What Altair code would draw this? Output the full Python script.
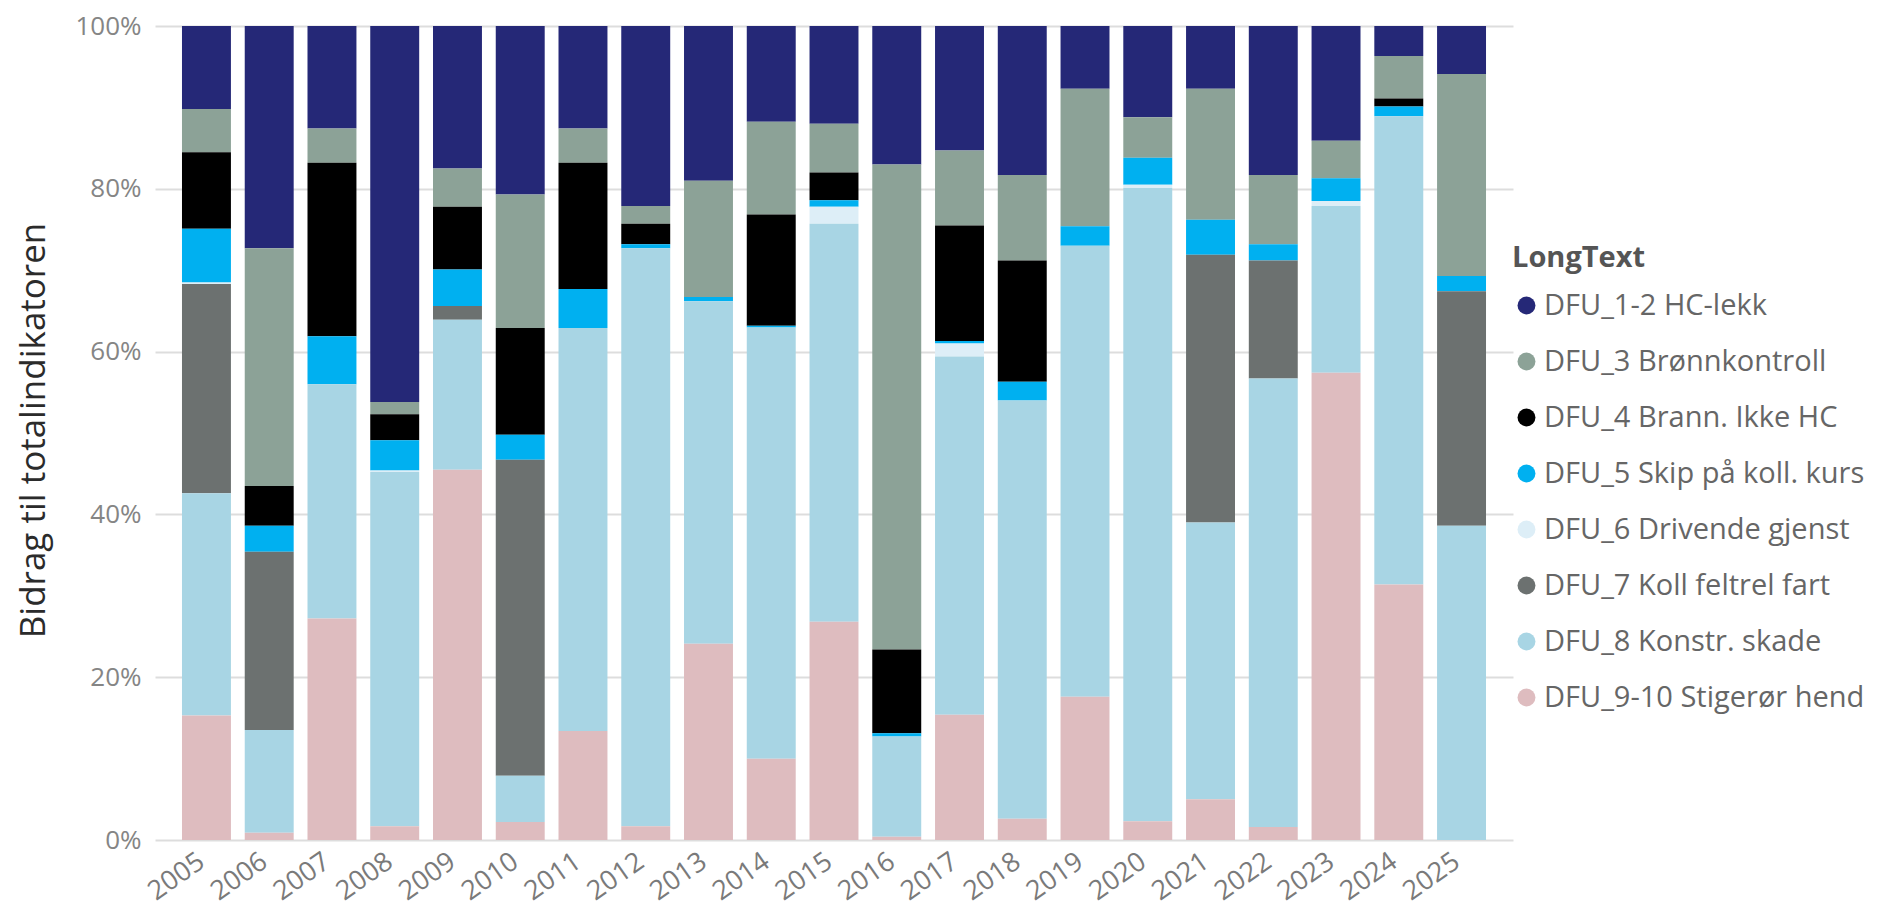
import altair as alt
import pandas as pd

years = [str(y) for y in range(2005, 2026)]

series = [
    "DFU_1-2 HC-lekk",
    "DFU_3 Brønnkontroll",
    "DFU_4 Brann. Ikke HC",
    "DFU_5 Skip på koll. kurs",
    "DFU_6 Drivende gjenst",
    "DFU_7 Koll feltrel fart",
    "DFU_8 Konstr. skade",
    "DFU_9-10 Stigerør hend",
]
colors = ["#252877", "#8CA297", "#000000", "#00B0F0", "#DDEEF7", "#6C7170", "#A8D5E4", "#DEBCBF"]

# percent shares per year, 2005..2025
hc_lekk =    [10.2, 27.3, 12.6, 46.2, 17.5, 20.7, 12.6, 22.1, 19.0, 11.8, 12.0, 17.0, 15.3, 18.3, 7.7, 11.2, 7.7, 18.3, 14.1, 3.7, 5.9]
bronn =      [5.3, 29.2, 4.2, 1.5, 4.7, 16.4, 4.2, 2.2, 14.3, 11.4, 6.0, 59.6, 9.2, 10.5, 16.9, 5.0, 16.1, 8.5, 4.6, 5.2, 24.8]
brann =      [9.4, 4.9, 21.3, 3.2, 7.7, 13.1, 15.5, 2.5, 0.0, 13.7, 3.4, 10.3, 14.2, 14.9, 0.0, 0.0, 0.0, 0.0, 0.0, 1.0, 0.0]
skip =       [6.6, 3.2, 5.9, 3.7, 4.5, 3.1, 4.8, 0.5, 0.5, 0.2, 0.8, 0.4, 0.3, 2.3, 2.4, 3.3, 4.3, 2.0, 2.8, 1.2, 1.9]
drivende =   [0.2, 0.0, 0.0, 0.2, 0.0, 0.0, 0.0, 0.0, 0.0, 0.0, 2.1, 0.0, 1.6, 0.0, 0.0, 0.4, 0.0, 0.0, 0.6, 0.0, 0.0]
koll =       [25.7, 21.9, 0.0, 0.0, 1.7, 38.8, 0.0, 0.0, 0.0, 0.0, 0.0, 0.0, 0.0, 0.0, 0.0, 0.0, 32.9, 14.5, 0.0, 0.0, 28.8]
konstr =     [27.3, 12.6, 28.8, 43.5, 18.4, 5.7, 49.5, 71.0, 42.1, 53.1, 48.9, 12.3, 44.0, 51.4, 55.4, 77.8, 34.0, 55.1, 20.5, 57.5, 38.6]
stigeror =   [15.3, 0.9, 27.2, 1.7, 45.5, 2.2, 13.4, 1.7, 24.1, 10.0, 26.8, 0.4, 15.4, 2.6, 17.6, 2.3, 5.0, 1.6, 57.4, 31.4, 0.0]

values = [hc_lekk, bronn, brann, skip, drivende, koll, konstr, stigeror]

rows = []
for si, (name, vals) in enumerate(zip(series, values)):
    for y, v in zip(years, vals):
        rows.append({"Year": y, "LongText": name, "Value": v, "stackorder": len(series) - 1 - si})
df = pd.DataFrame(rows)

FONT = "Open Sans"

chart = (
    alt.Chart(df)
    .mark_bar()
    .encode(
        x=alt.X(
            "Year:N",
            sort=years,
            title=None,
            scale=alt.Scale(paddingInner=0.22, paddingOuter=0.43),
            axis=alt.Axis(
                labelAngle=-35,
                labelFontSize=27,
                labelColor="#7A7A7A",
                labelFont=FONT,
                ticks=False,
                domain=False,
                labelPadding=8,
                labelOffset=-12,
            ),
        ),
        y=alt.Y(
            "Value:Q",
            stack="normalize",
            title="Bidrag til totalindikatoren",
            scale=alt.Scale(domain=[0, 1], nice=False),
            axis=alt.Axis(
                format=".0%",
                values=[0, 0.2, 0.4, 0.6, 0.8, 1.0],
                labelFontSize=26,
                labelColor="#858585",
                labelFont=FONT,
                labelPadding=14,
                ticks=False,
                domain=False,
                grid=True,
                gridColor="#DDDDDD",
                gridWidth=2,
                titleFontSize=35,
                titleFont=FONT,
                titleColor="#2B2B2B",
                titleFontWeight="normal",
                titleX=-122,
                titleY=404,
                titleAngle=270,
                titleAlign="center",
                titleBaseline="middle",
            ),
        ),
        color=alt.Color(
            "LongText:N",
            scale=alt.Scale(domain=series, range=colors),
            legend=alt.Legend(
                title="LongText",
                orient="none",
                legendX=1357,
                legendY=218,
                symbolType="circle",
                symbolSize=320,
                symbolStrokeWidth=0,
                labelFontSize=29,
                labelFont=FONT,
                labelColor="#666666",
                titleFontSize=29,
                titleFont=FONT,
                titleColor="#555555",
                titleFontWeight="bold",
                rowPadding=26,
                labelOffset=3,
                titlePadding=18,
                labelLimit=500,
            ),
        ),
        order=alt.Order("stackorder:Q", sort="ascending"),
    )
    .properties(
        width=1358,
        height=814,
        autosize=alt.AutoSizeParams(type="none"),
        padding={"left": 147, "top": 18, "right": 358, "bottom": 68},
    )
    .configure_view(stroke=None)
)

chart.save("out.html", embed_options={"renderer": "svg", "actions": False})
